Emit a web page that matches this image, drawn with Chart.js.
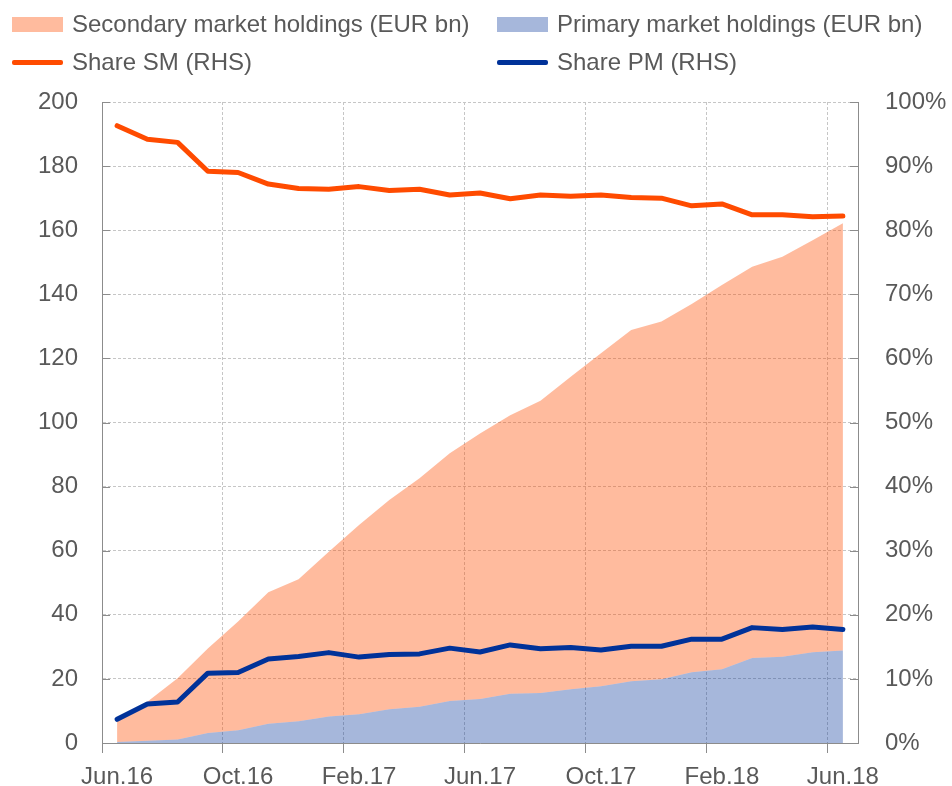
<!DOCTYPE html>
<html>
<head>
<meta charset="utf-8">
<script src="https://cdn.jsdelivr.net/npm/chart.js@4"></script>
<style>
html,body{margin:0;padding:0;background:#fff;}
#wrap{position:relative;width:952px;height:786px;overflow:hidden;}
canvas{position:absolute;left:0;top:0;}
#legend{position:absolute;left:0;top:0;width:952px;height:90px;font-family:"Liberation Sans",Arial,sans-serif;font-size:24px;color:#595959;}
.item{position:absolute;display:flex;align-items:center;white-space:nowrap;height:30px;}
.sw{width:51px;height:15px;margin-right:9px;}
.ln{width:51px;height:5px;margin-right:9px;border-radius:2px;}
</style>
</head>
<body>
<div id="wrap">
<canvas id="c" width="952" height="786"></canvas>
<div id="legend">
  <div class="item" style="left:12px;top:9px;"><span class="sw" style="background:rgba(255,75,0,0.38)"></span><span>Secondary market holdings (EUR bn)</span></div>
  <div class="item" style="left:497px;top:9px;"><span class="sw" style="background:rgba(0,50,153,0.35)"></span><span>Primary market holdings (EUR bn)</span></div>
  <div class="item" style="left:12px;top:47px;"><span class="ln" style="background:#ff4b00"></span><span>Share SM (RHS)</span></div>
  <div class="item" style="left:497px;top:47px;"><span class="ln" style="background:#003299"></span><span>Share PM (RHS)</span></div>
</div>
</div>
<script>
const categories = ['Jun.16','Jul.16','Aug.16','Sep.16','Oct.16','Nov.16','Dec.16','Jan.17','Feb.17','Mar.17','Apr.17','May.17','Jun.17','Jul.17','Aug.17','Sep.17','Oct.17','Nov.17','Dec.17','Jan.18','Feb.18','Mar.18','Apr.18','May.18','Jun.18'];
const tickLabels = ['Jun.16','Oct.16','Feb.17','Jun.17','Oct.17','Feb.18','Jun.18'];
const primaryHoldings = [0.3,0.7,1.1,3.1,4.0,6.0,6.8,8.3,9.0,10.5,11.3,13.1,13.7,15.4,15.6,16.8,17.7,19.3,19.9,22.1,23.0,26.5,26.9,28.3,28.9];
const secondaryHoldings = [6.7,12.2,19.1,26.4,33.9,41.0,44.3,51.4,59.0,65.3,71.3,77.3,82.9,86.9,91.2,97.5,103.9,109.6,111.6,114.9,119.9,122.1,124.8,128.6,133.3];
const shareSM = [96.3,94.2,93.7,89.2,89.0,87.2,86.5,86.4,86.8,86.2,86.4,85.5,85.8,84.9,85.5,85.3,85.5,85.1,85.0,83.8,84.1,82.4,82.4,82.1,82.2];
const sharePM = [3.7,6.1,6.4,10.9,11.0,13.1,13.5,14.1,13.4,13.8,13.9,14.8,14.2,15.3,14.7,14.9,14.5,15.1,15.1,16.2,16.2,18.0,17.7,18.1,17.7];

const totalHoldings = primaryHoldings.map((v, i) => v + secondaryHoldings[i]);

Chart.defaults.font.family = "'Liberation Sans', Arial, sans-serif";
Chart.defaults.font.size = 24;
Chart.defaults.color = '#595959';

const GRID = '#c6c6c6';
const AXIS = '#8c8c8c';

const innerTicks = {
  id: 'innerTicks',
  beforeDatasetsDraw(chart) {
    const {ctx, chartArea, scales} = chart;
    ctx.save();
    ctx.strokeStyle = AXIS;
    ctx.lineWidth = 1;
    scales.y.ticks.forEach(t => {
      const p = Math.round(scales.y.getPixelForValue(t.value)) + 0.5;
      ctx.beginPath(); ctx.moveTo(chartArea.left, p); ctx.lineTo(chartArea.left + 8, p); ctx.stroke();
    });
    scales.y1.ticks.forEach(t => {
      const p = Math.round(scales.y1.getPixelForValue(t.value)) + 0.5;
      ctx.beginPath(); ctx.moveTo(chartArea.right, p); ctx.lineTo(chartArea.right - 8, p); ctx.stroke();
    });
    ctx.restore();
  }
};

new Chart(document.getElementById('c'), {
  type: 'line',
  data: {
    labels: categories,
    datasets: [
      {label: 'Primary market holdings (EUR bn)', data: primaryHoldings, yAxisID: 'y', fill: 'origin',
       backgroundColor: 'rgba(0,50,153,0.35)', borderWidth: 0, pointRadius: 0, order: 2},
      {label: 'Secondary market holdings (EUR bn)', data: totalHoldings, yAxisID: 'y', fill: '-1',
       backgroundColor: 'rgba(255,75,0,0.38)', borderWidth: 0, pointRadius: 0, order: 2},
      {label: 'Share SM (RHS)', data: shareSM, yAxisID: 'y1', fill: false,
       borderColor: '#ff4b00', borderWidth: 5, pointRadius: 0, borderJoinStyle: 'round', borderCapStyle: 'round', order: 1},
      {label: 'Share PM (RHS)', data: sharePM, yAxisID: 'y1', fill: false,
       borderColor: '#003299', borderWidth: 5, pointRadius: 0, borderJoinStyle: 'round', borderCapStyle: 'round', order: 1}
    ]
  },
  options: {
    responsive: false,
    animation: false,
    events: [],
    layout: {padding: {top: 102, left: 0, right: 0, bottom: 0}},
    elements: {line: {tension: 0}},
    plugins: {legend: {display: false}, tooltip: {enabled: false}},
    scales: {
      x: {
        type: 'category',
        offset: true,
        grid: {
          offset: true,
          color: ctx => tickLabels.includes(categories[ctx.index]) ? GRID : 'rgba(0,0,0,0)',
          tickColor: ctx => tickLabels.includes(categories[ctx.index]) ? AXIS : 'rgba(0,0,0,0)',
          tickLength: 10,
          tickBorderDash: [],
          lineWidth: 1
        },
        border: {display: true, color: AXIS, dash: [3, 2]},
        ticks: {
          autoSkip: false, maxRotation: 0, minRotation: 0, padding: 10,
          callback: (v, i) => tickLabels.includes(categories[i]) ? categories[i] : ''
        },
        afterFit: s => { s.height = 43; }
      },
      y: {
        position: 'left', min: 0, max: 200,
        ticks: {stepSize: 20, padding: 24},
        grid: {color: GRID, drawTicks: false, lineWidth: 1},
        border: {display: true, color: AXIS, dash: [3, 2]},
        afterFit: s => { s.width = 102; }
      },
      y1: {
        position: 'right', min: 0, max: 100,
        ticks: {stepSize: 10, padding: 27, callback: v => v + '%'},
        grid: {drawOnChartArea: false, drawTicks: false},
        border: {display: true, color: AXIS},
        afterFit: s => { s.width = 94; }
      }
    }
  },
  plugins: [innerTicks]
});
</script>
</body>
</html>
